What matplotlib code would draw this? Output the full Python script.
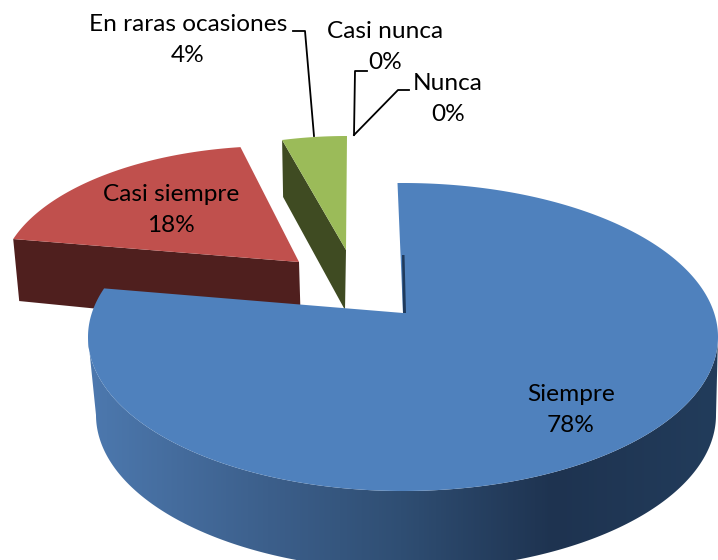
import numpy as np
import matplotlib
matplotlib.use("Agg")
import matplotlib.pyplot as plt
from matplotlib.colors import LinearSegmentedColormap
from matplotlib.patches import Polygon

categories = ["Siempre", "Casi siempre", "En raras ocasiones", "Casi nunca", "Nunca"]
values = [78, 18, 4, 0, 0]
label_x = [571, 171, 188, 385, 448]
label_y = [410, 210, 40, 47, 99]

plt.rcParams["font.family"] = ["Lato", "DejaVu Sans"]

fig = plt.figure(figsize=(7.18, 5.6), dpi=100)
ax = fig.add_axes([0, 0, 1, 1])
ax.axis("off")

# fake 3d: every slice has its own ellipse because of the explosion and perspective
slice_geom = [
    dict(cx=403, cy=337, a=315, b=154, apex=(403, 313), adj=(-1, 7.6), color="#4f81bd"),
    dict(cx=276, cy=280, a=276, b=134, apex=(299, 262), adj=(7, 7), color="#c0504d"),
    dict(cx=347, cy=263, a=261, b=127, apex=(346, 250), adj=(0, 0), color="#9bbb59"),
]


def arc(g, start, end, n=200):
    t = np.radians(np.linspace(start, end, n))
    return np.column_stack([g["cx"] + g["a"] * np.sin(t), g["cy"] - g["b"] * np.cos(t)])


cum = np.cumsum([0] + values) / sum(values) * 360
ranges = [(cum[i] + g["adj"][0], cum[i + 1] + g["adj"][1]) for i, g in enumerate(slice_geom)]

# outer wall of the big slice, shaded from left to right
wall_cmap = LinearSegmentedColormap.from_list(
    "wall",
    [(0.0, "#4d79af"), (0.29, "#3c5f8b"), (0.5, "#2f4e73"), (0.74, "#1e3350"), (1.0, "#223c5b")],
)
bottom = dict(cx=406, cy=415, a=310, b=155)
wall = np.vstack([arc(slice_geom[0], 90, 270, 300), arc(bottom, 270, 90, 300)])
wall_patch = Polygon(wall, closed=True, transform=ax.transData, fc="none", lw=0)
ax.add_patch(wall_patch)
grad = ax.imshow(np.linspace(0, 1, 512)[None, :], cmap=wall_cmap, extent=(85, 718, 560, 0),
                 aspect="auto", zorder=1)
grad.set_clip_path(wall_patch)
ax.set_xlim(0, 718)
ax.set_ylim(560, 0)

# red slice
red = arc(slice_geom[1], *ranges[1])
ax.fill(
    [red[0][0], 299, 301, red[0][0] + 6],
    [red[0][1], 262, 329, red[0][1] + 62],
    color="#4f1f1e", lw=0, zorder=2,
)
ax.fill(*np.vstack([[slice_geom[1]["apex"]], red]).T, color=slice_geom[1]["color"], lw=0, zorder=3)

# green slice
green = arc(slice_geom[2], *ranges[2])
ax.fill(
    [green[0][0], 346, 345, green[0][0] + 1],
    [green[0][1], 250, 310, green[0][1] + 57],
    color="#3f4b22", lw=0, zorder=2,
)
ax.fill(*np.vstack([[slice_geom[2]["apex"]], green]).T, color=slice_geom[2]["color"], lw=0, zorder=3)

# blue top goes last, it hides the bottom of the red wall
blue = arc(slice_geom[0], *ranges[0], n=400)
ax.fill(*np.vstack([[slice_geom[0]["apex"]], blue]).T, color=slice_geom[0]["color"], lw=0, zorder=4)
ax.fill([402, 403, 406, 404.5], [255, 313, 313, 255], color="#1f3a5c", lw=0, zorder=5)

# leader lines
ax.plot([293, 305, 314], [31, 31, 136], color="black", lw=1.3, zorder=6)
ax.plot([367, 355, 354], [71, 71, 135], color="black", lw=1.3, zorder=6)
ax.plot([409, 398, 354], [90, 90, 135], color="black", lw=1.3, zorder=6)

for cat, val, x, y in zip(categories, values, label_x, label_y):
    ax.text(x, y, f"{cat}\n{val}%", ha="center", va="center", fontsize=17.6,
            linespacing=1.62, color="black", zorder=7)

fig.savefig("out.png", dpi=100)
